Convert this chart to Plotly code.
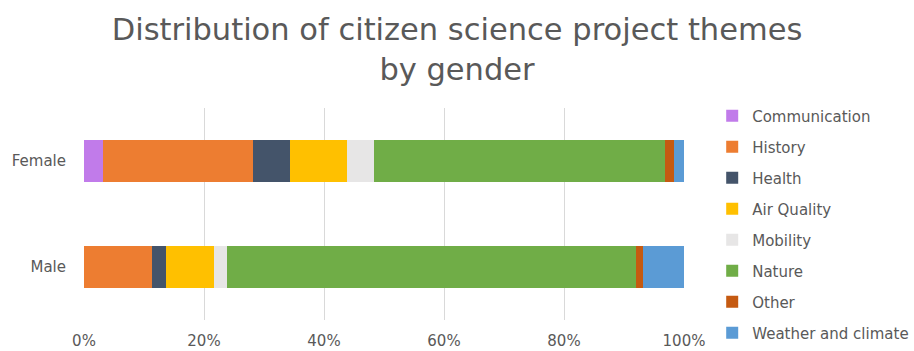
import plotly.graph_objects as go

genders = ["Male", "Female"]
themes = ["Communication", "History", "Health", "Air Quality", "Mobility",
          "Nature", "Other", "Weather and climate"]
male_values = [0.0, 11.3, 2.4, 7.9, 2.2, 68.2, 1.2, 6.8]
female_values = [3.1, 25.0, 6.2, 9.5, 4.6, 48.5, 1.5, 1.6]
colors = ["#C17BEA", "#ED7D31", "#44546A", "#FFC000", "#E7E6E6",
          "#70AD47", "#C55A11", "#5B9BD5"]
tick_vals = [0, 20, 40, 60, 80, 100]
tick_text = ["0%", "20%", "40%", "60%", "80%", "100%"]

FONT = "DejaVu Sans"
GREY = "#595959"

fig = go.Figure()
for i, t in enumerate(themes):
    fig.add_trace(go.Bar(
        y=genders, x=[male_values[i], female_values[i]], name=t,
        orientation="h", marker=dict(color=colors[i], line=dict(width=0)),
        legendgroup=t,
    ))

fig.update_layout(
    width=914, height=351,
    barmode="stack", bargap=0.6,
    plot_bgcolor="white", paper_bgcolor="white",
    margin=dict(l=84, r=230, t=108, b=31, autoexpand=False),
    font=dict(family=FONT, color=GREY, size=14),
    title=dict(text="Distribution of citizen science project themes<br>by gender",
               x=0.5, xanchor="center", xref="container",
               y=0.885, yanchor="top", yref="container",
               font=dict(family=FONT, size=30.5, color=GREY)),
    legend=dict(x=1.047, xanchor="left", y=1.04, yanchor="top",
                traceorder="grouped", tracegroupgap=8.5, maxheight=340,
                font=dict(family=FONT, size=15, color=GREY)),
    xaxis=dict(range=[0, 100], tickvals=tick_vals, ticktext=tick_text,
               showgrid=True, gridcolor="#D9D9D9", gridwidth=1,
               zeroline=False, showline=False, ticks="", automargin=False,
               ticklabelstandoff=10, tickfont=dict(size=15, color=GREY)),
    yaxis=dict(showgrid=False, zeroline=False, showline=False, ticks="",
               automargin=False,
               ticklabelstandoff=17, tickfont=dict(size=15, color=GREY)),
)

fig.write_html("out.html")
